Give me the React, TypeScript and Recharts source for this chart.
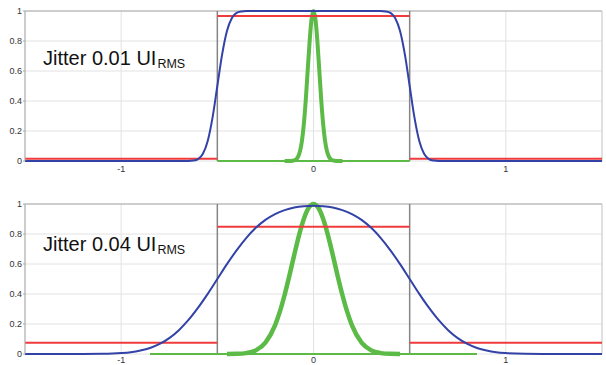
import React from "react";
import { LineChart, Line, XAxis, YAxis, CartesianGrid, ReferenceLine } from "recharts";

const xTicks = [-1, 0, 1];
const yTicks = [0, 0.2, 0.4, 0.6, 0.8, 1];

// Top panel (jitter 0.01 UI RMS)
const topBlueX = [-1.5, -0.65, -0.625, -0.6, -0.575, -0.55, -0.525, -0.5, -0.475, -0.45, -0.425, -0.4, -0.375, -0.35, 0.35, 0.375, 0.4, 0.425, 0.45, 0.475, 0.5, 0.525, 0.55, 0.575, 0.6, 0.625, 0.65, 1.5];
const topBlueY = [0, 0, 0.003, 0.013, 0.048, 0.133, 0.289, 0.5, 0.711, 0.867, 0.952, 0.987, 0.997, 1, 1, 0.997, 0.987, 0.952, 0.867, 0.711, 0.5, 0.289, 0.133, 0.048, 0.013, 0.003, 0, 0];
const topGreenX = [-0.15, -0.12, -0.1, -0.09, -0.08, -0.07, -0.06, -0.05, -0.04, -0.03, -0.02, -0.01, 0, 0.01, 0.02, 0.03, 0.04, 0.05, 0.06, 0.07, 0.08, 0.09, 0.1, 0.12, 0.15];
const topGreenY = [0, 0.0003, 0.004, 0.011, 0.029, 0.066, 0.135, 0.249, 0.411, 0.607, 0.801, 0.946, 1, 0.946, 0.801, 0.607, 0.411, 0.249, 0.135, 0.066, 0.029, 0.011, 0.004, 0.0003, 0];
const topGreenTailX = [-0.5, 0.5];
const topGreenTailY = [0, 0];
const topRedX = [-1.5, -0.5, -0.5, -0.5, 0.5, 0.5, 0.5, 1.5];
const topRedY = [0.015, 0.015, null, 0.967, 0.967, null, 0.015, 0.015];

// Bottom panel (jitter 0.04 UI RMS)
const botBlueX = [-1.5, -1.2, -1.1, -1.0, -0.95, -0.9, -0.85, -0.8, -0.75, -0.7, -0.65, -0.6, -0.55, -0.5, -0.45, -0.4, -0.35, -0.3, -0.25, -0.2, -0.15, -0.1, -0.05, 0, 0.05, 0.1, 0.15, 0.2, 0.25, 0.3, 0.35, 0.4, 0.45, 0.5, 0.55, 0.6, 0.65, 0.7, 0.75, 0.8, 0.85, 0.9, 0.95, 1.0, 1.1, 1.2, 1.5];
const botBlueY = [0, 0, 0.001, 0.006, 0.012, 0.023, 0.04, 0.067, 0.106, 0.159, 0.227, 0.309, 0.401, 0.5, 0.599, 0.691, 0.773, 0.841, 0.894, 0.933, 0.959, 0.976, 0.985, 0.988, 0.985, 0.976, 0.959, 0.933, 0.894, 0.841, 0.773, 0.691, 0.599, 0.5, 0.401, 0.309, 0.227, 0.159, 0.106, 0.067, 0.04, 0.023, 0.012, 0.006, 0.001, 0, 0];
const botGreenX = [-0.45, -0.4, -0.35, -0.3, -0.25, -0.2, -0.175, -0.15, -0.125, -0.1, -0.075, -0.05, -0.025, 0, 0.025, 0.05, 0.075, 0.1, 0.125, 0.15, 0.175, 0.2, 0.25, 0.3, 0.35, 0.4, 0.45];
const botGreenY = [0, 0.001, 0.006, 0.024, 0.076, 0.191, 0.282, 0.395, 0.524, 0.662, 0.793, 0.902, 0.975, 1, 0.975, 0.902, 0.793, 0.662, 0.524, 0.395, 0.282, 0.191, 0.076, 0.024, 0.006, 0.001, 0];
const botGreenTailX = [-0.85, 0.85];
const botGreenTailY = [0, 0];
const botRedX = [-1.5, -0.5, -0.5, -0.5, 0.5, 0.5, 0.5, 1.5];
const botRedY = [0.075, 0.075, null, 0.849, 0.849, null, 0.075, 0.075];

const zip = (xs: number[], ys: (number | null)[]) => xs.map((x, i) => ({ x, y: ys[i] }));

const BLUE = "#3242a6";
const RED = "#ef3b3b";
const GREEN = "#5cba47";

type Pt = { x: number; y: number | null };
type PanelProps = {
  height: number;
  top: number;
  xAxisHeight: number;
  tickMargin: number;
  blue: Pt[];
  green: Pt[];
  greenTail: Pt[];
  red: Pt[];
  greenWidth: number;
};

function Panel({ height, top, xAxisHeight, tickMargin, blue, green, greenTail, red, greenWidth }: PanelProps) {
  return (
    <LineChart width={606} height={height} margin={{ top, right: 4, left: 0, bottom: 0 }}>
      <CartesianGrid stroke="#e2e2e2" strokeWidth={1} />
      <XAxis
        type="number"
        dataKey="x"
        domain={[-1.5, 1.5]}
        ticks={xTicks}
        height={xAxisHeight}
        tickSize={0}
        tickMargin={tickMargin}
        axisLine={false}
        tick={{ fontSize: 9, fill: "#333", fontFamily: "Liberation Sans, Arial, sans-serif" }}
      />
      <YAxis
        type="number"
        dataKey="y"
        domain={[0, 1]}
        ticks={yTicks}
        width={25}
        tickSize={2}
        tickMargin={1}
        axisLine={{ stroke: "#a8a8a8" }}
        tickLine={{ stroke: "#a8a8a8" }}
        tick={{ fontSize: 9, fill: "#333", fontFamily: "Liberation Sans, Arial, sans-serif" }}
      />
      <ReferenceLine y={1} stroke="#a8a8a8" strokeWidth={1} />
      <ReferenceLine x={1.5} stroke="#cfcfcf" strokeWidth={1} />
      <ReferenceLine x={-0.5} stroke="#858585" strokeWidth={1.5} />
      <ReferenceLine x={0.5} stroke="#858585" strokeWidth={1.5} />
      <Line data={greenTail} dataKey="y" type="linear" stroke={GREEN} strokeWidth={2} dot={false} isAnimationActive={false} />
      <Line data={green} dataKey="y" type="monotone" stroke={GREEN} strokeWidth={greenWidth} dot={false} isAnimationActive={false} />
      <Line data={red} dataKey="y" type="linear" stroke={RED} strokeWidth={2} dot={false} connectNulls={false} isAnimationActive={false} />
      <Line data={blue} dataKey="y" type="monotone" stroke={BLUE} strokeWidth={2} dot={false} isAnimationActive={false} />
    </LineChart>
  );
}

function Label({ y, value }: { y: number; value: string }) {
  return (
    <text x={43} y={y} fontFamily="Liberation Sans, Arial, sans-serif" fontSize={20} fill="#111">
      {value}
      <tspan fontSize={12.5} dy={3.3} dx={1}>RMS</tspan>
    </text>
  );
}

export default function App() {
  return (
    <div style={{ position: "absolute", left: 0, top: 0, width: 606, height: 365, background: "#fff", overflow: "hidden" }}>
      <div style={{ position: "absolute", left: 0, top: 0 }}>
        <Panel height={180} top={11} xAxisHeight={19} tickMargin={5} blue={zip(topBlueX, topBlueY)} green={zip(topGreenX, topGreenY)} greenTail={zip(topGreenTailX, topGreenTailY)} red={zip(topRedX, topRedY)} greenWidth={4} />
      </div>
      <div style={{ position: "absolute", left: 0, top: 180 }}>
        <Panel height={185} top={24} xAxisHeight={11} tickMargin={3} blue={zip(botBlueX, botBlueY)} green={zip(botGreenX, botGreenY)} greenTail={zip(botGreenTailX, botGreenTailY)} red={zip(botRedX, botRedY)} greenWidth={4.5} />
      </div>
      <svg width={606} height={365} style={{ position: "absolute", left: 0, top: 0, pointerEvents: "none" }}>
        <Label y={65} value="Jitter 0.01 UI" />
        <Label y={251} value="Jitter 0.04 UI" />
      </svg>
    </div>
  );
}
